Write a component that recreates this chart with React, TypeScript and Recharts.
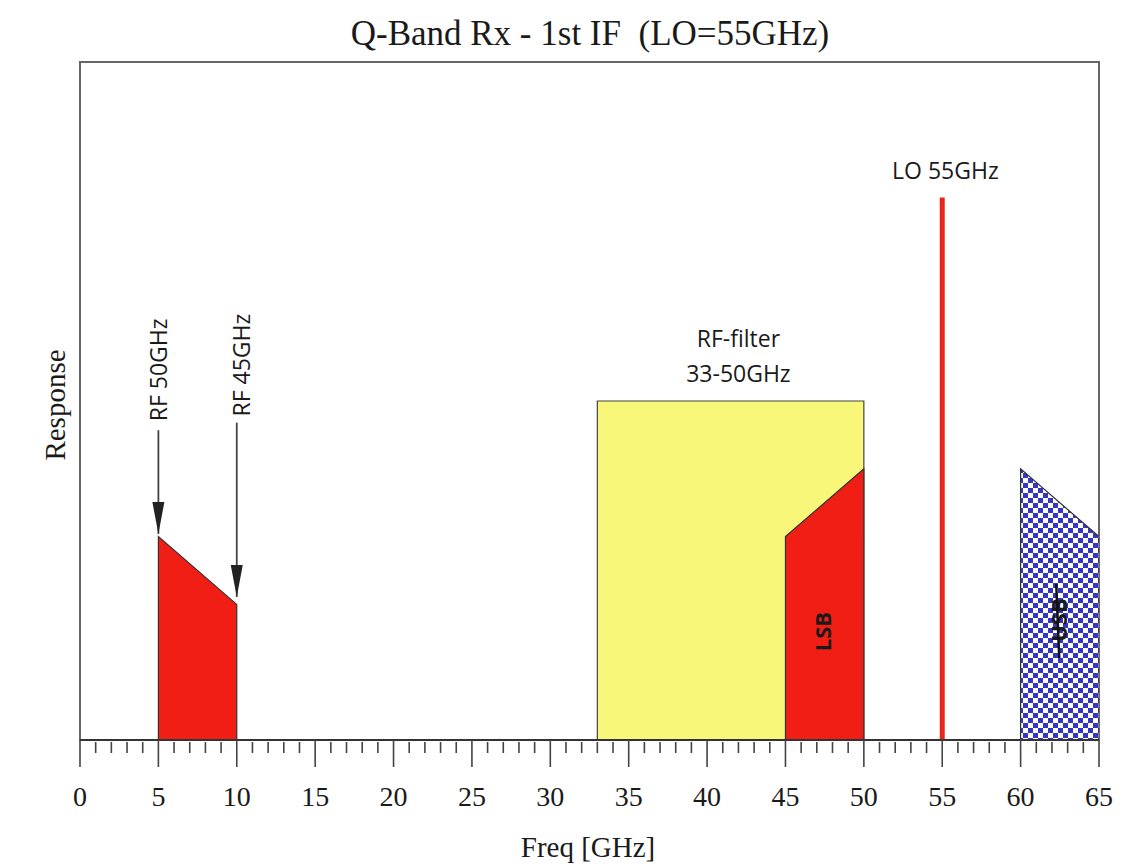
import { ComposedChart, Area, Line, Scatter, XAxis, YAxis, ReferenceArea, ReferenceDot } from 'recharts'

// spectrum shapes, [freq GHz, relative response]
const RF_BAND = [
  { f: 5, v: 0 },
  { f: 5, v: 30 },
  { f: 10, v: 20 },
  { f: 10, v: 0 },
]
const RF_FILTER = [
  { f: 33, v: 0 },
  { f: 33, v: 50 },
  { f: 50, v: 50 },
  { f: 50, v: 0 },
]
const LSB = [
  { f: 45, v: 0 },
  { f: 45, v: 30 },
  { f: 50, v: 40 },
  { f: 50, v: 0 },
]
const USB = [
  { f: 60, v: 0 },
  { f: 60, v: 40 },
  { f: 65, v: 30 },
  { f: 65, v: 0 },
]
const LO = [
  { f: 55, v: 0 },
  { f: 55, v: 80 },
]
const ARROW_RF50 = [
  { f: 5, v: 45.7 },
  { f: 5, v: 30.4 },
]
const ARROW_RF45 = [
  { f: 10, v: 46.8 },
  { f: 10, v: 21.1 },
]

const FREQ_TICKS = Array.from({ length: 66 }, (_, i) => i)

const RED = '#f01e14'
const SANS = '"Open Sans", "Liberation Sans", sans-serif'
const SERIF = '"Liberation Serif", "Times New Roman", serif'

function FreqTick(props: any) {
  const { x, y, payload } = props
  const major = payload.value % 5 === 0
  return (
    <g>
      <line x1={x} x2={x} y1={major ? y : y + 2} y2={y + (major ? 27 : 13)} stroke="#444" strokeWidth={1.6} />
      {major && (
        <text x={x} y={y + 66} textAnchor="middle" fontFamily={SERIF} fontSize={28} fill="#1a1a1a">
          {payload.value}
        </text>
      )}
    </g>
  )
}

function ArrowHead(props: any) {
  const { cx, cy } = props
  return <polygon points={`${cx - 6},${cy - 32} ${cx + 6},${cy - 32} ${cx},${cy}`} fill="#222" />
}

function label(text: string, opts: { rotate?: boolean; bold?: boolean; strike?: boolean; size?: number } = {}) {
  return (p: any) => (
    <g transform={opts.rotate ? `rotate(-90 ${p.cx} ${p.cy})` : undefined}>
      <text
        x={p.cx}
        y={p.cy}
        textAnchor="middle"
        dominantBaseline="central"
        fontFamily={SANS}
        fontSize={opts.size ?? 23}
        fontWeight={opts.bold ? 700 : 400}
        fill="#1a1a1a"
      >
        {text}
      </text>
      {opts.strike && <line x1={p.cx - 38} x2={p.cx + 36} y1={p.cy + 1} y2={p.cy - 2} stroke="#111" strokeWidth={2.5} />}
    </g>
  )
}

export default function App() {
  return (
    <div style={{ position: 'relative', width: 1130, height: 859, background: '#fff' }}>
      <svg width={0} height={0} style={{ position: 'absolute' }}>
        <defs>
          <pattern id="checker" width={10} height={10} patternUnits="userSpaceOnUse">
            <rect width={10} height={10} fill="#ffffff" />
            <rect width={5} height={5} fill="#3636c4" />
            <rect x={5} y={5} width={5} height={5} fill="#3636c4" />
          </pattern>
        </defs>
      </svg>
      <div
        style={{
          position: 'absolute',
          left: 182,
          width: 800,
          top: 6,
          textAlign: 'center',
          fontFamily: SERIF,
          fontSize: 35,
          lineHeight: '40px',
          color: '#1a1a1a',
          whiteSpace: 'pre',
        }}
      >
        {'Q-Band Rx - 1st IF  (LO=55GHz)'}
      </div>
      <ComposedChart width={1130} height={859} margin={{ top: 54, right: 39, left: 72, bottom: 67 }}>
        <XAxis
          dataKey="f"
          type="number"
          domain={[0, 65]}
          ticks={FREQ_TICKS}
          interval={0}
          tickSize={0}
          tickMargin={0}
          tickLine={false}
          tick={<FreqTick />}
          axisLine={{ stroke: '#333', strokeWidth: 2 }}
          height={60}
          allowDataOverflow
        />
        <YAxis type="number" domain={[0, 100]} hide />
        <ReferenceArea x1={0} x2={65} y1={0} y2={100} fill="none" stroke="#666" strokeWidth={2} ifOverflow="visible" />
        <Area data={RF_FILTER} dataKey="v" type="linear" fill="#f8f77a" fillOpacity={1} stroke="#444" strokeWidth={1.2} dot={false} activeDot={false} isAnimationActive={false} />
        <Area data={RF_BAND} dataKey="v" type="linear" fill={RED} fillOpacity={1} stroke="#333" strokeWidth={1.2} dot={false} activeDot={false} isAnimationActive={false} />
        <Area data={LSB} dataKey="v" type="linear" fill={RED} fillOpacity={1} stroke="#333" strokeWidth={1.2} dot={false} activeDot={false} isAnimationActive={false} />
        <Area data={USB} dataKey="v" type="linear" fill="url(#checker)" fillOpacity={1} stroke="#333" strokeWidth={1.2} dot={false} activeDot={false} isAnimationActive={false} />
        <Line data={LO} dataKey="v" type="linear" stroke="#e8261c" strokeWidth={5} dot={false} activeDot={false} isAnimationActive={false} />
        <Line data={ARROW_RF50} dataKey="v" type="linear" stroke="#444" strokeWidth={1.8} dot={false} activeDot={false} isAnimationActive={false} />
        <Line data={ARROW_RF45} dataKey="v" type="linear" stroke="#444" strokeWidth={1.8} dot={false} activeDot={false} isAnimationActive={false} />
        <Scatter data={[ARROW_RF50[1], ARROW_RF45[1]]} dataKey="v" shape={<ArrowHead />} isAnimationActive={false} />
        <ReferenceDot x={5} y={54.6} r={0} shape={label('RF 50GHz', { rotate: true })} />
        <ReferenceDot x={10.3} y={55.3} r={0} shape={label('RF 45GHz', { rotate: true })} />
        <ReferenceDot x={42} y={59.3} r={0} shape={label('RF-filter')} />
        <ReferenceDot x={42} y={54.1} r={0} shape={label('33-50GHz')} />
        <ReferenceDot x={55.2} y={84} r={0} shape={label('LO 55GHz')} />
        <ReferenceDot x={47.3} y={16} r={0} shape={label('LSB', { rotate: true, bold: true, size: 22 })} />
        <ReferenceDot x={62.4} y={17.7} r={0} shape={label('USB', { rotate: true, bold: true, strike: true, size: 22 })} />
      </ComposedChart>
      <div
        style={{
          position: 'absolute',
          left: 380,
          width: 400,
          top: 823,
          textAlign: 'center',
          fontFamily: SERIF,
          fontSize: 29,
          lineHeight: '32px',
          color: '#1a1a1a',
        }}
      >
        Freq [GHz]
      </div>
      <div
        style={{
          position: 'absolute',
          left: 47 - 100,
          width: 200,
          top: 397 - 16,
          textAlign: 'center',
          fontFamily: SERIF,
          fontSize: 29,
          lineHeight: '32px',
          color: '#1a1a1a',
          transform: 'rotate(-90deg)',
        }}
      >
        Response
      </div>
    </div>
  )
}
